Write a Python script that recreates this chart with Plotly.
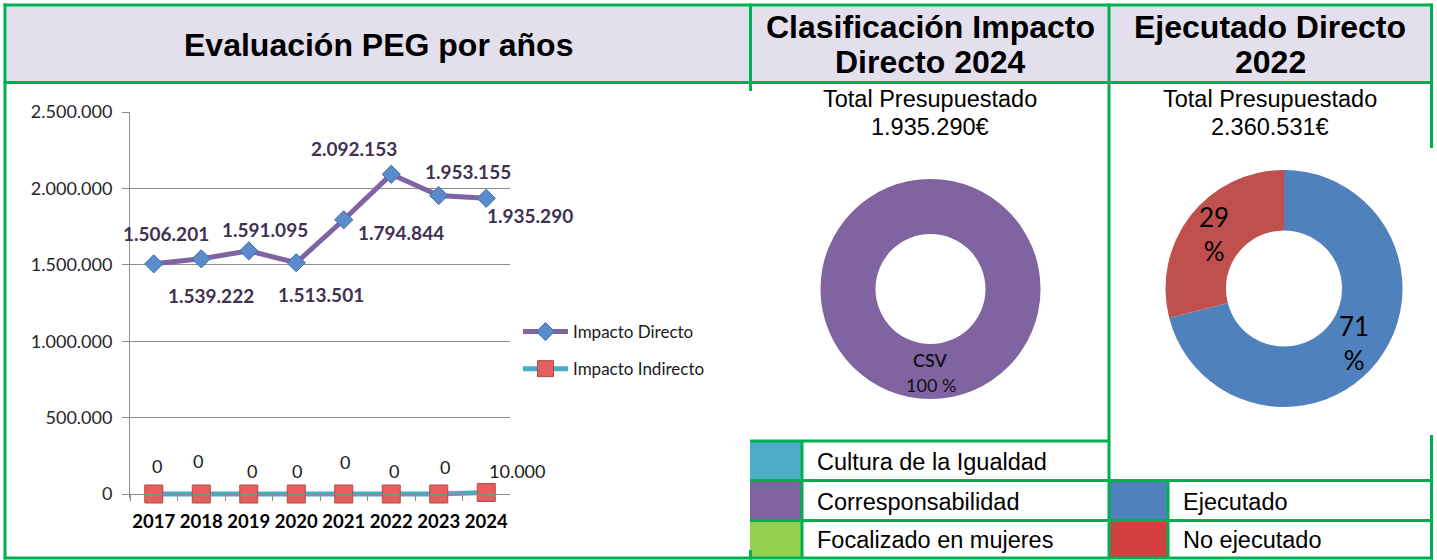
import math
import plotly.graph_objects as go

# ---------------- data ----------------
years = ["2017", "2018", "2019", "2020", "2021", "2022", "2023", "2024"]
impacto_directo = [1506201, 1539222, 1591095, 1513501, 1794844, 2092153, 1953155, 1935290]
impacto_indirecto = [0, 0, 0, 0, 0, 0, 0, 10000]

impact_categories = ["Cultura de la Igualdad", "Corresponsabilidad", "Focalizado en mujeres"]
impact_colors = ["#4BACC6", "#8064A2", "#92D050"]
impact_values_2024 = [0, 1935290, 0]
impact_short = ["CDI", "CSV", "FEM"]
total_2024 = 1935290

exec_categories = ["Ejecutado", "No ejecutado"]
exec_swatch_colors = ["#4F81BD", "#D13F3F"]
exec_pie_colors = ["#4F81BD", "#C0504D"]
exec_percent_2022 = [71, 29]
total_2022 = 2360531

# label offsets (pixels) for data labels
dir_label_dx = [12, 10, 16, 25, 57, -37, 29, 44]
dir_label_dy = [30, -37, 21, -32, -13, 26, 24, -17]
ind_label_dx = [3, -3, 3, 1, 1, 3, 6, 31]
ind_label_dy = [28, 33, 23, 23, 32, 23, 27, 21]

W, H = 1437, 560
GREEN = "#00B050"
LAV = "#E4DFEC"
CHART_FONT = "Lato, Carlito, Calibri, sans-serif"
TAB_FONT = "Liberation Sans, Arial, sans-serif"


def fmt(v):
    return f"{v:,}".replace(",", ".")


def px(x):
    return x / W


def py(y):
    return 1 - y / H


fig = go.Figure()

# ---------------- line chart ----------------
fig.add_trace(go.Scatter(
    x=years, y=impacto_directo, mode="lines+markers", name="Impacto Directo",
    line=dict(color="#8064A2", width=5),
    marker=dict(symbol="diamond", size=14, color="#5A8CCB", line=dict(color="#3E6EAB", width=1)),
    legendgroup="d", cliponaxis=False,
))
fig.add_trace(go.Scatter(
    x=years, y=impacto_indirecto, mode="lines+markers", name="Impacto Indirecto",
    line=dict(color="#4BACC6", width=5),
    marker=dict(symbol="square", size=18, color="#E0615F", line=dict(color="#B54946", width=1)),
    legendgroup="i", cliponaxis=False,
))

annotations = []
for i, v in enumerate(impacto_directo):
    annotations.append(dict(
        x=i, y=v, xref="x", yref="y", text=fmt(v), showarrow=False,
        xanchor="center", yanchor="middle",
        xshift=dir_label_dx[i], yshift=dir_label_dy[i],
        font=dict(family=CHART_FONT, size=19, color="#3F3151", weight="bold"),
    ))
for i, v in enumerate(impacto_indirecto):
    annotations.append(dict(
        x=i, y=v, xref="x", yref="y", text=fmt(v), showarrow=False,
        xanchor="center", yanchor="middle",
        xshift=ind_label_dx[i], yshift=ind_label_dy[i],
        font=dict(family=CHART_FONT, size=18, color="#1A1A1A"),
    ))


def pann(x, y, text, font, xanchor="center"):
    annotations.append(dict(x=px(x), y=py(y), xref="paper", yref="paper", showarrow=False,
                            xanchor=xanchor, yanchor="middle", text=text, font=font))


# ---------------- donut 1 ----------------
fig.add_trace(go.Pie(
    labels=impact_categories, values=impact_values_2024,
    marker=dict(colors=impact_colors, line=dict(width=0)),
    hole=0.5, sort=False, direction="clockwise", textinfo="none",
    showlegend=False,
    domain=dict(x=[px(820.5), px(1040.5)], y=[py(399), py(179)]),
))
share = [round(v / sum(impact_values_2024) * 100) for v in impact_values_2024]
k = max(range(len(share)), key=lambda j: share[j])
pann(930.5, 360, impact_short[k], dict(family=CHART_FONT, size=18, color="#111", weight=600))
pann(930.5, 385, f"{share[k]} %", dict(family=CHART_FONT, size=18, color="#111"))

# ---------------- donut 2 ----------------
P2_CX, P2_CY, P2_R, P2_HOLE = 1284, 288.5, 118.5, 0.49
fig.add_trace(go.Pie(
    labels=exec_categories, values=exec_percent_2022,
    marker=dict(colors=exec_pie_colors, line=dict(width=0)),
    hole=P2_HOLE, sort=False, direction="clockwise", rotation=0,
    textinfo="none", showlegend=False,
    domain=dict(x=[px(P2_CX - P2_R), px(P2_CX + P2_R)], y=[py(P2_CY + P2_R), py(P2_CY - P2_R)]),
))
tot = sum(exec_percent_2022)
cum = 0
r_mid = P2_R * (1 + P2_HOLE) / 2
for v in exec_percent_2022:
    theta = 2 * math.pi * (cum + v / 2) / tot
    cum += v
    lx = P2_CX + r_mid * math.sin(theta)
    ly = P2_CY - r_mid * math.cos(theta)
    pann(lx, ly, f"{round(v / tot * 100)}<br>%", dict(family=CHART_FONT, size=26, color="#000"))

# ---------------- table / frame ----------------
shapes = []


def rect(x0, y0, x1, y1, color):
    shapes.append(dict(type="rect", xref="paper", yref="paper", x0=px(x0), x1=px(x1),
                       y0=py(y1), y1=py(y0), fillcolor=color, line=dict(width=0), layer="below"))


def hline(y, x0, x1):
    shapes.append(dict(type="line", xref="paper", yref="paper", x0=px(x0), x1=px(x1),
                       y0=py(y), y1=py(y), line=dict(color=GREEN, width=3), layer="above"))


def vline(x, y0, y1):
    shapes.append(dict(type="line", xref="paper", yref="paper", x0=px(x), x1=px(x),
                       y0=py(y0), y1=py(y1), line=dict(color=GREEN, width=3), layer="above"))


rect(5, 5, 1432, 82, LAV)
tab = dict(family=TAB_FONT, size=23.5, color="#000")
rows_y = [(441, 480.5), (480.5, 520.5), (520.5, 558)]
for (y0, y1), c, lab in zip(rows_y, impact_colors, impact_categories):
    rect(750, y0, 802, y1, c)
    pann(815, (y0 + y1) / 2 + 1, lab, tab, xanchor="left")
for (y0, y1), c, lab in zip(rows_y[1:], exec_swatch_colors, exec_categories):
    rect(1109, y0, 1168, y1, c)
    pann(1181, (y0 + y1) / 2 + 1, lab, tab, xanchor="left")

hline(5, 3.5, 1433)
hline(82.5, 3.5, 1433)
hline(558, 3.5, 1433)
vline(5, 3.5, 559.5)
vline(750.5, 3.5, 91)
vline(750.5, 550, 559.5)
vline(1109, 3.5, 559.5)
vline(1431.5, 3.5, 148)
vline(1431.5, 435, 559.5)
hline(441, 750, 1109)
hline(480.5, 750, 1433)
hline(520.5, 750, 1433)
vline(802, 441, 558)
vline(1168, 480.5, 558)

# headers
hdr = dict(family=TAB_FONT, size=32, color="#000", weight="bold")
pann(378, 45, "Evaluación PEG por años", hdr)
pann(930, 27, "Clasificación Impacto", hdr)
pann(930, 62, "Directo 2024", hdr)
pann(1270, 27, "Ejecutado Directo", hdr)
pann(1270, 62, "2022", hdr)

for cx, t in [(930, total_2024), (1270, total_2022)]:
    pann(cx, 99, "Total Presupuestado", tab)
    pann(cx, 127, f"{fmt(t)}€", tab)

# y axis: 0 at pixel 494, 2.5M at pixel 112; small negative pad so the
# thick zero-level line is not clipped at the bottom of the plot area
Y_TOP, Y_ZERO, Y_MAX = 112, 494, 2500000
Y_PAD = 25000
y_bottom_px = Y_ZERO + Y_PAD / Y_MAX * (Y_ZERO - Y_TOP)

fig.update_layout(
    width=W, height=H, margin=dict(l=0, r=0, t=0, b=0, pad=0, autoexpand=False),
    paper_bgcolor="white", plot_bgcolor="white",
    separators=",.",
    shapes=shapes, annotations=annotations,
    xaxis=dict(domain=[px(130), px(510)], type="category", categoryorder="array",
               categoryarray=years, range=[-0.5, 7.5], tickson="boundaries",
               anchor="free", position=py(Y_ZERO),
               ticks="outside", ticklen=6, tickcolor="#8C8C8C", showline=True,
               linecolor="#8C8C8C", linewidth=1, showgrid=False, zeroline=False,
               tickangle=0, automargin=False,
               tickfont=dict(family=CHART_FONT, size=18.5, color="#000", weight="bold"),
               ticklabelstandoff=11, fixedrange=True),
    yaxis=dict(domain=[py(y_bottom_px), py(Y_TOP)], range=[-Y_PAD, Y_MAX], dtick=500000,
               tick0=0, tickformat=",d", ticks="outside", ticklen=7, tickcolor="#8C8C8C",
               showline=True, linecolor="#8C8C8C", linewidth=1, gridcolor="#8C8C8C",
               gridwidth=1, zeroline=False, automargin=False,
               tickfont=dict(family=CHART_FONT, size=18, color="#262626"),
               ticklabelstandoff=6, fixedrange=True),
    legend=dict(x=px(518), y=py(314), xanchor="left", yanchor="top",
                font=dict(family=CHART_FONT, size=17, color="#1A1A1A"),
                bgcolor="rgba(0,0,0,0)", tracegroupgap=12, itemwidth=45),
    showlegend=True,
)

fig.write_html("out.html", config={"displayModeBar": False},
               post_script="document.body.style.margin='0';")
